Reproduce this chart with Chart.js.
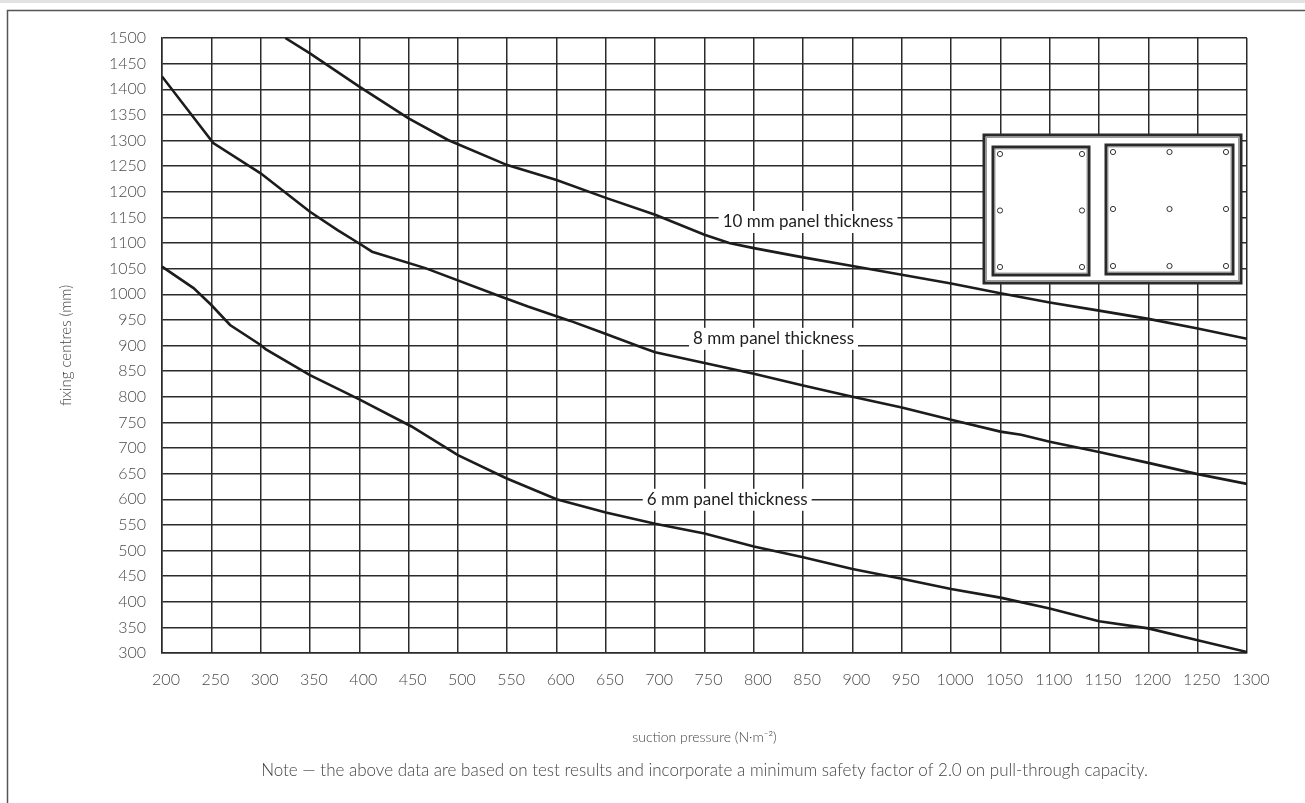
<!DOCTYPE html>
<html lang="en">
  <head>
    <meta charset="utf-8" />
    <title>Fixing centres vs suction pressure</title>
    <style>
      * {
        margin: 0;
        padding: 0;
      }
      body {
        background: #fff;
      }
      .chartBox {
        width: 1305px;
        height: 803px;
        position: relative;
      }
    </style>
  </head>
  <body>
    <div class="chartBox">
      <canvas id="myChart"></canvas>
    </div>

    <script src="https://cdn.jsdelivr.net/npm/chart.js"></script>

    <script>
      // data block
      const pressureTicks = [200, 250, 300, 350, 400, 450, 500, 550, 600, 650, 700, 750, 800, 850, 900, 950, 1000, 1050, 1100, 1150, 1200, 1250, 1300];
      const centreTicks = [300, 350, 400, 450, 500, 550, 600, 650, 700, 750, 800, 850, 900, 950, 1000, 1050, 1100, 1150, 1200, 1250, 1300, 1350, 1400, 1450, 1500];

      const pressure10 = [325, 350, 400, 450, 490, 550, 600, 650, 700, 750, 775, 800, 850, 900, 950, 1000, 1050, 1100, 1150, 1200, 1250, 1300];
      const centres10 = [1500, 1470, 1405, 1343, 1301, 1252, 1223, 1188, 1155, 1116, 1100, 1090, 1072, 1055, 1038, 1021, 1002, 984, 968, 952, 933, 913];

      const pressure8 = [200, 252, 300, 350, 378, 400, 413, 467, 544, 571, 614, 644, 688, 700, 750, 800, 850, 900, 950, 1000, 1050, 1071, 1100, 1150, 1200, 1250, 1300];
      const centres8 = [1425, 1295, 1236, 1161, 1125, 1099, 1083, 1051, 995, 976, 948, 927, 895, 887, 866, 845, 822, 800, 779, 755, 732, 726, 712, 692, 671, 649, 630];

      const pressure6 = [200, 232, 250, 269, 300, 305, 350, 400, 453, 500, 549, 600, 650, 700, 750, 800, 850, 900, 950, 1000, 1050, 1100, 1150, 1200, 1250, 1300];
      const centres6 = [1054, 1012, 979, 940, 901, 893, 842, 795, 742, 686, 641, 600, 574, 552, 533, 508, 487, 464, 445, 425, 408, 387, 362, 348, 325, 302];

      const seriesNames = ["10 mm panel thickness", "8 mm panel thickness", "6 mm panel thickness"];

      const toPoints = (xs, ys) => xs.map((x, i) => ({ x: x, y: ys[i] }));

      const lineStyle = {
        borderColor: "#1c1c1c",
        borderWidth: 2.6,
        pointRadius: 0,
        tension: 0,
        fill: false,
      };

      const data = {
        datasets: [
          { label: seriesNames[0], data: toPoints(pressure10, centres10), ...lineStyle },
          { label: seriesNames[1], data: toPoints(pressure8, centres8), ...lineStyle },
          { label: seriesNames[2], data: toPoints(pressure6, centres6), ...lineStyle },
        ],
      };

      const fontFamily = "Lato, 'Noto Sans', sans-serif";

      // frame + curve labels + panel sketch plugin
      const decorations = {
        id: "decorations",
        beforeDraw(chart) {
          const { ctx, width } = chart;
          ctx.save();
          ctx.fillStyle = "#e2e2e2";
          ctx.fillRect(0, 0, width, 3);
          ctx.strokeStyle = "#555";
          ctx.lineWidth = 1.5;
          ctx.beginPath();
          ctx.moveTo(7.5, chart.height);
          ctx.lineTo(7.5, 10.5);
          ctx.lineTo(width, 10.5);
          ctx.stroke();
          ctx.restore();
        },
        afterDatasetsDraw(chart, args, opts) {
          const { ctx, chartArea, scales } = chart;
          const { x, y } = scales;
          ctx.save();

          // curve labels sit on white boxes over the grid
          ctx.font = "17px " + fontFamily;
          ctx.textAlign = "center";
          ctx.textBaseline = "middle";
          opts.labels.forEach((lab) => {
            const px = x.getPixelForValue(lab.at[0]);
            const py = y.getPixelForValue(lab.at[1]);
            const w = ctx.measureText(lab.text).width + 8;
            ctx.fillStyle = "#fff";
            ctx.fillRect(px - w / 2, py - 11, w, 22);
            ctx.fillStyle = "#1e1e1e";
            ctx.fillText(lab.text, px, py);
          });

          // panel fixing layout sketch
          const ox = chartArea.right - 263;
          const oy = chartArea.top + 97;
          ctx.fillStyle = "#fff";
          ctx.fillRect(ox, oy, 257, 148);
          ctx.strokeStyle = "#2a2a2a";
          ctx.lineWidth = 3;
          ctx.strokeRect(ox, oy, 257, 148);
          ctx.strokeStyle = "#999";
          ctx.lineWidth = 1;
          ctx.strokeRect(ox + 2.5, oy + 2.5, 252, 143);

          const panels = [
            { x: ox + 9, y: oy + 12, w: 96, h: 128, cols: 2, rows: 3 },
            { x: ox + 122, y: oy + 10, w: 127, h: 129, cols: 3, rows: 3 },
          ];
          panels.forEach((p) => {
            ctx.strokeStyle = "#2a2a2a";
            ctx.lineWidth = 3;
            ctx.strokeRect(p.x, p.y, p.w, p.h);
            ctx.strokeStyle = "#888";
            ctx.lineWidth = 0.8;
            ctx.strokeRect(p.x + 2, p.y + 2, p.w - 4, p.h - 4);
            ctx.strokeStyle = "#333";
            ctx.lineWidth = 1;
            for (let c = 0; c < p.cols; c++) {
              for (let r = 0; r < p.rows; r++) {
                const cx = p.x + 7 + (c * (p.w - 14)) / (p.cols - 1);
                const cy = p.y + 7 + (r * (p.h - 15)) / (p.rows - 1);
                ctx.beginPath();
                ctx.arc(cx, cy, 2.6, 0, Math.PI * 2);
                ctx.stroke();
              }
            }
          });

          // note under the chart
          ctx.font = "300 17px " + fontFamily;
          ctx.fillStyle = "#444";
          ctx.textAlign = "center";
          ctx.fillText(opts.note, (chartArea.left + chartArea.right) / 2, 771);
          ctx.restore();
        },
      };

      const tickFont = { family: fontFamily, size: 16, weight: "300" };
      const gridStyle = { color: "#2b2b2b", lineWidth: 1.5, drawTicks: false };

      // config block
      const config = {
        type: "line",
        data: data,
        options: {
          responsive: true,
          maintainAspectRatio: false,
          animation: false,
          layout: { padding: { top: 38, right: 58, left: 0, bottom: 0 } },
          scales: {
            x: {
              type: "linear",
              min: 200,
              max: 1300,
              afterFit: (scale) => {
                scale.height = 150;
              },
              afterBuildTicks: (scale) => {
                scale.ticks = pressureTicks.map((v) => ({ value: v }));
              },
              grid: gridStyle,
              border: { color: "#2b2b2b", width: 1.5 },
              ticks: {
                autoSkip: false,
                maxRotation: 0,
                padding: 17,
                labelOffset: 4,
                color: "#4a4a4a",
                font: tickFont,
                callback: (v) => String(v),
              },
              title: {
                display: true,
                text: "suction pressure (N·m⁻²)",
                color: "#444",
                font: { family: fontFamily, size: 14, weight: "300" },
                padding: { top: 57, bottom: 57 },
              },
            },
            y: {
              min: 300,
              max: 1500,
              afterFit: (scale) => {
                scale.width = 162;
              },
              afterBuildTicks: (scale) => {
                scale.ticks = centreTicks.map((v) => ({ value: v }));
              },
              grid: gridStyle,
              border: { color: "#2b2b2b", width: 1.5 },
              ticks: {
                autoSkip: false,
                padding: 16,
                color: "#4a4a4a",
                font: tickFont,
                callback: (v) => String(v),
              },
              title: {
                display: true,
                text: "fixing centres (mm)",
                color: "#444",
                font: { family: fontFamily, size: 15, weight: "300" },
                padding: { top: 57, bottom: 0 },
              },
            },
          },
          plugins: {
            legend: { display: false },
            tooltip: { enabled: false },
            decorations: {
              labels: [
                { text: seriesNames[0], at: [855, 1141] },
                { text: seriesNames[1], at: [820, 913] },
                { text: seriesNames[2], at: [773, 599] },
              ],
              note: "Note — the above data are based on test results and incorporate a minimum safety factor of 2.0 on pull-through capacity.",
            },
          },
        },
        plugins: [decorations],
      };

      // init render block
      const myChart = new Chart(document.getElementById("myChart"), config);
    </script>
  </body>
</html>
